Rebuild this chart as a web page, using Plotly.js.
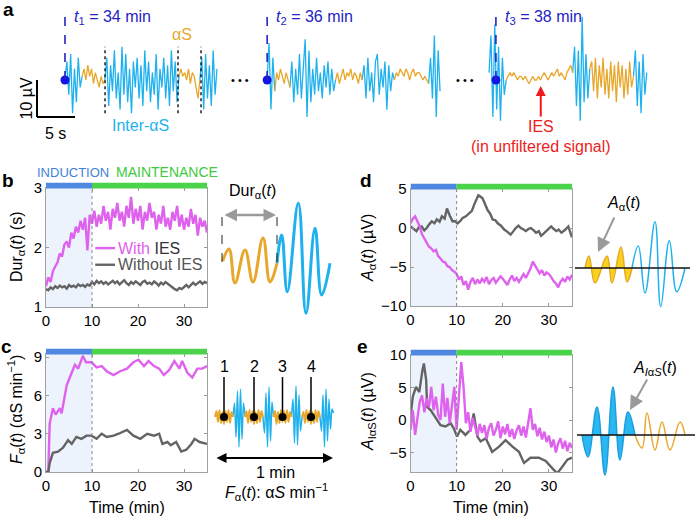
<!DOCTYPE html>
<html><head><meta charset="utf-8">
<script src="https://cdn.plot.ly/plotly-3.0.1.min.js"></script>
<style>body{margin:0;background:#fff}#chart{width:695px;height:517px}</style>
</head><body><div id="chart"></div>
<script>
// ---------------- DATA ----------------
// Panel a: EEG excerpts (µV), sampled every 0.25 s
const dtA = 0.25;
const segStart = [0, 26.6, 55.8];          // display time (s) where each excerpt starts
const markerT = [0, 26.6, 56.7];           // t1, t2, t3 markers (display s)
const markerLabels = ['<i>t</i><sub>1</sub> = 34 min', '<i>t</i><sub>2</sub> = 36 min', '<i>t</i><sub>3</sub> = 38 min'];
const seg1 = [0,5,-4,7,-9,3,-6,6,-2,1,3,0,4,1,3,-1,2,0,-2,1,-1,0,6,-7,4,-3,8,-5,2,-8,9,-4,7,-6,3,-9,5,-2,6,-5,4,-7,8,-3,5,-6,2,-4,7,-8,3,-2,6,-5,4,-7,8,-3,5,-6,1,3,1,2,0,3,-1,2,1,-2,-5,0,6,-8,7,-5,4,-7,8,-4,3];
const seg2 = [0,10,-8,6,-3,2,0,3,1,-1,2,0,-2,5,-6,3,-4,7,-5,4,11,-10,8,-6,3,-4,6,-3,2,-5,4,-2,5,-4,3,-3,0,2,-1,1,3,0,2,1,3,0,2,1,-1,2,0,4,-5,6,-3,2,-6,5,7,-4,3,-2,5,-8,4,-3,2,0,2,1,3,2,1,3,2,0,2,3,1,2,2,1,0,1,0,-1,6,-5,12,-10,8,-3];
const seg3 = [2,12,-10,15,-8,9,-11,6,-4,0,1,2,1,2,1,0,1,1,0,1,0,-1,0,1,0,0,1,0,1,2,1,0,1,2,1,2,3,1,2,1,0,2,3,4,2,9,-7,8,-11,17,-6,7,-5,3,5,-3,6,-5,4,-2,6,-4,3,-5,5,-3,4,-6,5,-2,4,-5,3,-4,5,-2,1,8,-7,5,-9,7,-4,2];
const orangeRanges = [[[9,21],[60,71]], [[4,12],[36,50],[67,85]], [[9,44],[53,76]]];
const dottedT = [5.27, 14.87, 17.9];

// Panel b: Dur_alpha(t) (s), every 0.5 min
const bWith = [1.35,1.5,1.42,1.6,1.68,1.75,1.9,1.85,2.05,2.1,2.0,2.25,2.15,2.35,2.25,2.45,2.3,2.5,1.95,2.55,
 2.4,2.62,2.35,2.55,2.4,2.7,2.45,2.6,2.3,2.65,2.5,2.75,2.45,2.6,2.35,2.7,2.5,2.85,2.4,2.65,
 2.45,2.7,2.3,2.6,2.45,2.75,2.5,2.6,2.3,2.55,2.4,2.7,2.35,2.5,2.3,2.6,2.45,2.7,2.35,2.55,
 2.3,2.5,2.35,2.65,2.4,2.55,2.2,2.5,2.35,2.45,2.25];
const bWithout = [1.3,1.28,1.33,1.3,1.35,1.32,1.36,1.33,1.35,1.31,1.37,1.34,1.36,1.33,1.38,1.35,1.37,1.34,1.38,1.36,
 1.42,1.38,1.44,1.4,1.43,1.39,1.42,1.38,1.41,1.44,1.4,1.43,1.38,1.42,1.45,1.4,1.37,1.42,1.39,1.43,
 1.4,1.37,1.42,1.44,1.39,1.41,1.38,1.43,1.4,1.36,1.41,1.38,1.42,1.39,1.35,1.33,1.3,1.28,1.32,1.3,
 1.34,1.37,1.33,1.38,1.41,1.37,1.4,1.43,1.39,1.42,1.4];

// Panel c: F_alpha(t) (alpha-S per min)
const cWithT = [0,0.5,0.8,1.5,2.1,3,3.4,4.1,4.5,5.6,6.3,7,8,8.7,9.9,11,12.1,13.2,14.7,16.1,17.6,19,20.1,21.3,22.3,23.5,24.6,25.6,26.8,27.9,29,29.6,30.7,31.8,32.9,34,35];
const cWith  = [0,0,3.8,5.0,4.5,5.0,4.6,6.2,6.8,7.8,8.4,8.1,9.1,8.6,8.6,8.2,8.3,7.9,7.6,7.9,8.1,8.6,8.8,8.3,8.7,8.3,8.1,7.6,8.0,8.7,8.1,8.7,7.8,7.4,8.1,8.1,8.3];
const cWithoutT = [0,0.5,0.8,1.5,2.6,3.7,4.8,5.6,6.6,7.7,8.8,9.9,11,12.1,13.2,14.7,15.8,17.6,19,20.5,22,23.5,24.6,25.3,26.4,27.1,28.3,29.4,30.5,31.6,32.3,33.4,35];
const cWithout  = [0,0,0.7,1.5,1.6,1.9,2.5,2.2,2.75,2.6,2.85,2.85,2.6,3.0,2.75,2.85,3.0,3.3,2.85,2.6,3.0,2.85,3.0,2.2,2.35,2.1,2.35,1.6,1.75,2.2,2.6,2.35,2.2];

// Panel d: A_alpha(t) (µV)
const dWith = [0.6,1.2,1.5,0.9,0.2,-0.8,-1.3,-1.8,-2.4,-2.6,-3.0,-2.8,-3.6,-3.9,-4.3,-4.4,-4.9,-5.0,-5.4,-5.6,
 -5.9,-6.6,-6.2,-7.3,-6.8,-7.9,-6.9,-6.4,-7.2,-6.6,-7.1,-6.5,-6.9,-6.3,-7.2,-6.7,-6.4,-7.0,-6.6,-6.2,
 -6.5,-6.9,-7.3,-6.6,-6.1,-6.8,-6.4,-6.9,-6.3,-5.9,-6.4,-5.8,-5.2,-4.3,-4.8,-5.3,-5.8,-5.4,-6.1,-5.7,
 -5.9,-6.3,-6.8,-7.1,-7.6,-6.9,-6.5,-6.9,-6.2,-6.6,-6.0];
const dWithoutT = [0,0.6,1.3,1.8,2.4,3,3.5,4.1,4.6,5.2,5.7,6.3,6.8,7.4,7.9,8.5,9.1,9.6,10.2,10.8,11.3,12,12.7,13.3,13.8,14.3,14.7,15.2,15.6,16.2,16.7,17.3,17.8,18.4,18.9,19.6,20.3,21,21.7,22.3,22.8,23.4,23.9,24.5,25,25.6,26.1,26.7,27.2,27.8,28.3,28.9,29.4,30,30.5,31,31.6,32.1,32.7,33.4,34.2,34.6,35];
const dWithout  = [0.2,-0.1,-0.4,0.1,0.2,-0.3,0,0.5,0.85,0.6,1.1,0.8,1.5,1.2,2.5,1.6,0.85,0.9,0.6,0.9,1.3,1.5,1.9,2.2,3,3.6,4.2,4.0,3.8,3.0,2.3,1.8,1.1,1.0,0.6,0.3,-0.2,-0.5,-0.85,-0.4,0,0.3,0,-0.2,-0.4,-0.1,0,-0.3,-0.6,-0.4,-1.0,-0.7,-0.4,0,0.2,-0.1,-0.4,-0.2,-0.6,-0.3,0.2,-0.5,-1.2];

// Panel e: A_IalphaS(t) (µV)
const eWith = [-1.5,1.5,-2.3,0.5,2.8,3.8,1.2,3.3,2.0,5.1,
 1.5,3.6,0.8,0.0,5.6,0.5,3.4,-0.5,2.5,5.1,
 -1.5,3.2,8.9,5.1,-0.5,1.2,-1.8,0.3,-1.0,-2.4,
 -0.6,-2.0,-0.8,-2.9,-1.2,-0.5,-2.4,-1.5,-0.2,-2.8,
 -1.0,-2.2,-0.6,-2.6,-1.4,-2.9,-1.6,-0.8,-2.4,-1.0,
 -2.7,-0.5,1.8,-1.5,-0.6,-2.5,-1.2,-3.0,-1.8,-3.4,
 -2.4,-4.2,-3.0,-5.0,-3.6,-2.8,-4.4,-3.2,-4.8,-3.5,-4.3];
const eWithoutT = [0,0.5,1.2,1.9,2.6,2.9,3.4,3.6,4.4,5.4,6.5,7.6,8.7,9.4,10.1,10.8,11.9,13,13.7,14.5,15.2,16.3,17.7,19.2,20.6,22.1,23.5,24.6,26,27.8,29.3,30.7,31.8,32.9,34,35];
const eWithout  = [0.5,3.6,5.1,4.3,7.7,8.7,6.1,2.0,1.5,0.3,-0.8,-1.0,-0.5,-1.3,-2.55,-1.5,-2.3,-1.5,1.0,-2.55,-3.3,-2.8,-4.9,-4.1,-3.1,-4.1,-4.9,-6.6,-5.8,-5.8,-6.3,-7.4,-8.2,-7.2,-6.1,-5.8];

// Schematics (arbitrary units: schematic time, amplitude)
const durOrangeX = [7.7,14,20,30,38,48,55,62];
const durOrangeY = [1,13,-21,12,-20,24,-20,-1];
const durBlueX = [62,66.7,72.3,83.3,91,100,106.7,115];
const durBlueY = [-1,27,-29.7,58.7,-51.3,33.7,-33,-1.3];
const durMarks = [7, 62];

const fWave = [0,6,-5,7,-6,5,-7,6,-5,7,-6,5,0,14,-20,26,-30,28,-22,14,0,6,-6,7,-5,6,-7,5,-6,7,-5,6,0,-16,24,-30,30,-24,15,0,6,-7,5,-6,7,-5,6,-6,7,-5,5,0,18,-26,31,-28,22,-14,0,5,-6,7,-5,6,-7,5,-6,7,-5,6,0,-14,22,-30,28,-24,18,-12,8,4];
const fWaveX0 = 5, fWaveDx = 1.5;
const fOrange = [[0,12],[20,32],[39,51],[58,70]];
const fLabels = ['1','2','3','4'];

const aOrangeX = [13,17,23,35,40,49,55,60];
const aOrangeY = [0,12,-15,12,-15,21,-14,0];
const aBlueX = [60,66.3,73,83,88.7,97.3,104.7,113];
const aBlueY = [0,22,-25,46.3,-38.7,27.3,-23.7,0];

const iBlueX = [10,16,25,33,41,48,56,63];
const iBlueY = [0,-22,28,-40,48,-25,23,0];
const iOrangeX = [63,70,75,83,90,98,108,113];
const iOrangeY = [0,-13,22,-15,13,-15,13,0];

// ---------------- STYLE ----------------
const FONT = 'Arial, "Liberation Sans", Helvetica, sans-serif';
const MAG = '#df62ee', GRY = '#646464', BLUEW = '#1fb1ee', ORW = '#e8a72a';
const INDC = '#4f88e0', MAINC = '#4bd44b', SHADE = '#edf3fc', TBLUE = '#2424c4';
const W = 695, H = 517;
const fx = p => p / W, fy = p => 1 - p / H;

const traces = [];
const shapes = [];
const ann = [];

// ---------- Panel a ----------
[seg1, seg2, seg3].forEach((vals, s) => {
  const xs = vals.map((v, i) => segStart[s] + i * dtA);
  const blueY = vals.slice();
  orangeRanges[s].forEach(([a, b]) => { for (let i = a + 1; i < b; i++) blueY[i] = null; });
  traces.push({x: xs, y: blueY, xaxis: 'x5', yaxis: 'y5', mode: 'lines', connectgaps: false,
    line: {color: BLUEW, width: 1.3}, hoverinfo: 'skip'});
  orangeRanges[s].forEach(([a, b]) => {
    traces.push({x: xs.slice(a, b + 1), y: vals.slice(a, b + 1), xaxis: 'x5', yaxis: 'y5', mode: 'lines',
      line: {color: ORW, width: 1.3}, hoverinfo: 'skip'});
  });
});
markerT.forEach((t, i) => {
  shapes.push({type: 'line', xref: 'x5', yref: 'y5', x0: t, x1: t, y0: 0, y1: 17.6,
    line: {color: TBLUE, width: 1.6, dash: 'dash'}});
  ann.push({xref: 'x5', yref: 'y5', x: t + 0.9, y: 17.0, text: markerLabels[i], showarrow: false,
    xanchor: 'left', yanchor: 'middle', font: {family: FONT, size: 16, color: TBLUE}});
});
traces.push({x: markerT, y: markerT.map(() => 0), xaxis: 'x5', yaxis: 'y5', mode: 'markers',
  marker: {color: '#1414e6', size: 9}, hoverinfo: 'skip'});
dottedT.forEach(t => shapes.push({type: 'line', xref: 'x5', yref: 'y5', x0: t, x1: t, y0: -9, y1: 9,
  line: {color: '#111', width: 1.4, dash: 'dot'}}));
// scale bar 5 s x 10 µV
shapes.push({type: 'line', xref: 'x5', yref: 'y5', x0: -3.68, x1: -3.68, y0: 0, y1: -10, line: {color: '#000', width: 2}});
shapes.push({type: 'line', xref: 'x5', yref: 'y5', x0: -3.68, x1: 1.32, y0: -10, y1: -10, line: {color: '#000', width: 2}});
ann.push({xref: 'x5', yref: 'y5', x: -5.0, y: -5, text: '10 µV', textangle: -90, showarrow: false,
  font: {family: FONT, size: 16, color: '#000'}});
ann.push({xref: 'x5', yref: 'y5', x: -1.2, y: -14.4, text: '5 s', showarrow: false,
  font: {family: FONT, size: 16, color: '#000'}});
ann.push({xref: 'x5', yref: 'y5', x: 15.4, y: 12.2, text: 'αS', showarrow: false,
  font: {family: FONT, size: 16, color: ORW}});
ann.push({xref: 'x5', yref: 'y5', x: 9.9, y: -12.2, text: 'Inter-αS', showarrow: false,
  font: {family: FONT, size: 16, color: BLUEW}});
ann.push({xref: 'x5', yref: 'y5', x: 23.0, y: 0, text: '• • •', showarrow: false,
  font: {family: FONT, size: 11, color: '#000'}});
ann.push({xref: 'x5', yref: 'y5', x: 52.6, y: 0, text: '• • •', showarrow: false,
  font: {family: FONT, size: 11, color: '#000'}});
ann.push({xref: 'x5', yref: 'y5', x: 62.6, y: -1.6, ax: 62.6, ay: -10.3, axref: 'x5', ayref: 'y5', text: '',
  showarrow: true, arrowcolor: '#ee1c1c', arrowwidth: 2, arrowhead: 2, arrowsize: 1});
ann.push({xref: 'x5', yref: 'y5', x: 62.6, y: -12.6, text: 'IES', showarrow: false,
  font: {family: FONT, size: 16, color: '#ee1c1c'}});
ann.push({xref: 'x5', yref: 'y5', x: 62.6, y: -17.9, text: '(in unfiltered signal)', showarrow: false,
  font: {family: FONT, size: 16, color: '#ee1c1c'}});

// ---------- Main panels ----------
const tHalf = bWith.map((v, i) => i * 0.5);
const mainLine = c => ({color: c, width: 2.4});
traces.push({x: tHalf, y: bWith, xaxis: 'x', yaxis: 'y', mode: 'lines', line: mainLine(MAG), hoverinfo: 'skip'});
traces.push({x: tHalf, y: bWithout, xaxis: 'x', yaxis: 'y', mode: 'lines', line: mainLine(GRY), hoverinfo: 'skip'});
traces.push({x: cWithT, y: cWith, xaxis: 'x2', yaxis: 'y2', mode: 'lines', line: mainLine(MAG), hoverinfo: 'skip'});
traces.push({x: cWithoutT, y: cWithout, xaxis: 'x2', yaxis: 'y2', mode: 'lines', line: mainLine(GRY), hoverinfo: 'skip'});
traces.push({x: dWithoutT, y: dWithout, xaxis: 'x3', yaxis: 'y3', mode: 'lines', line: mainLine(GRY), hoverinfo: 'skip'});
traces.push({x: tHalf, y: dWith, xaxis: 'x3', yaxis: 'y3', mode: 'lines', line: mainLine(MAG), hoverinfo: 'skip'});
traces.push({x: eWithoutT, y: eWithout, xaxis: 'x4', yaxis: 'y4', mode: 'lines', line: mainLine(GRY), hoverinfo: 'skip'});
traces.push({x: tHalf, y: eWith, xaxis: 'x4', yaxis: 'y4', mode: 'lines', line: mainLine(MAG), hoverinfo: 'skip'});

const phaseEdges = [0, 10, 35];
[['x', 'y'], ['x2', 'y2'], ['x3', 'y3'], ['x4', 'y4']].forEach(([xa, ya]) => {
  shapes.push({type: 'rect', xref: xa, yref: ya + ' domain', x0: phaseEdges[0], x1: phaseEdges[1], y0: 0, y1: 1,
    fillcolor: SHADE, line: {width: 0}, layer: 'below'});
  shapes.push({type: 'line', xref: xa, yref: ya + ' domain', x0: phaseEdges[1], x1: phaseEdges[1], y0: 0, y1: 1,
    line: {color: '#8a8a8a', width: 1, dash: 'dot'}});
  shapes.push({type: 'rect', xref: xa, yref: ya + ' domain', x0: phaseEdges[0], x1: phaseEdges[1], y0: 0.995, y1: 1.045,
    fillcolor: INDC, line: {width: 0}});
  shapes.push({type: 'rect', xref: xa, yref: ya + ' domain', x0: phaseEdges[1], x1: phaseEdges[2], y0: 0.995, y1: 1.045,
    fillcolor: MAINC, line: {width: 0}});
});
ann.push({xref: 'paper', yref: 'paper', x: fx(35), y: fy(172), xanchor: 'left', text: 'INDUCTION', showarrow: false,
  font: {family: FONT, size: 13, color: '#3f82d8'}});
ann.push({xref: 'paper', yref: 'paper', x: fx(114), y: fy(172), xanchor: 'left', text: 'MAINTENANCE', showarrow: false,
  font: {family: FONT, size: 14, color: '#3ec93e'}});

// legend (panel b)
shapes.push({type: 'line', xref: 'x', yref: 'y', x0: 10.7, x1: 15.0, y0: 1.99, y1: 1.99, line: {color: MAG, width: 2.4}});
shapes.push({type: 'line', xref: 'x', yref: 'y', x0: 10.7, x1: 15.0, y0: 1.71, y1: 1.71, line: {color: GRY, width: 2.4}});
ann.push({xref: 'x', yref: 'y', x: 15.3, y: 1.99, xanchor: 'left', showarrow: false,
  text: '<span style="color:' + MAG + '">With</span> IES', font: {family: FONT, size: 16, color: '#333'}});
ann.push({xref: 'x', yref: 'y', x: 15.3, y: 1.71, xanchor: 'left', showarrow: false,
  text: 'Without IES', font: {family: FONT, size: 16, color: '#555'}});

// axis titles and panel letters
const tf = {family: FONT, size: 16, color: '#000'};
ann.push({xref: 'paper', yref: 'paper', x: fx(17), y: fy(247), text: 'Dur<sub>α</sub>(<i>t</i>) (s)', textangle: -90, showarrow: false, font: tf});
ann.push({xref: 'paper', yref: 'paper', x: fx(16), y: fy(410), text: '<i>F</i><sub>α</sub>(<i>t</i>) (αS min<sup>−1</sup>)', textangle: -90, showarrow: false, font: tf});
ann.push({xref: 'paper', yref: 'paper', x: fx(368), y: fy(248), text: '<i>A</i><sub>α</sub>(<i>t</i>) (µV)', textangle: -90, showarrow: false, font: tf});
ann.push({xref: 'paper', yref: 'paper', x: fx(368), y: fy(412), text: '<i>A</i><sub>IαS</sub>(<i>t</i>) (µV)', textangle: -90, showarrow: false, font: tf});
ann.push({xref: 'paper', yref: 'paper', x: fx(126.5), y: fy(508), text: 'Time (min)', showarrow: false, font: tf});
ann.push({xref: 'paper', yref: 'paper', x: fx(491), y: fy(508), text: 'Time (min)', showarrow: false, font: tf});
[['a', 8, 9], ['b', 8, 181], ['c', 6, 346], ['d', 366, 181], ['e', 362, 346]].forEach(([l, x, y]) =>
  ann.push({xref: 'paper', yref: 'paper', x: fx(x), y: fy(y), text: '<b>' + l + '</b>', showarrow: false,
    font: {family: FONT, size: 19, color: '#000'}}));

// ---------- Schematic b (duration) ----------
traces.push({x: durOrangeX, y: durOrangeY, xaxis: 'x6', yaxis: 'y6', mode: 'lines',
  line: {color: ORW, width: 3, shape: 'spline', smoothing: 1.2}, hoverinfo: 'skip'});
traces.push({x: durBlueX, y: durBlueY, xaxis: 'x6', yaxis: 'y6', mode: 'lines',
  line: {color: BLUEW, width: 3, shape: 'spline', smoothing: 1.2}, hoverinfo: 'skip'});
durMarks.forEach(x => shapes.push({type: 'line', xref: 'x6', yref: 'y6', x0: x, x1: x, y0: 0, y1: 53,
  line: {color: '#222', width: 1, dash: 'dash'}}));
ann.push({xref: 'x6', yref: 'y6', x: durMarks[1] - 1, y: 47, ax: durMarks[0] + 1, ay: 47, axref: 'x6', ayref: 'y6',
  text: '', showarrow: true, arrowside: 'end+start', arrowcolor: '#9a9a9a', arrowwidth: 2.5, arrowhead: 2, arrowsize: 1});
ann.push({xref: 'x6', yref: 'y6', x: 37, y: 71, text: 'Dur<sub>α</sub>(<i>t</i>)', showarrow: false, font: tf});

// ---------- Schematic c (frequency) ----------
const fX = fWave.map((v, i) => fWaveX0 + i * fWaveDx);
const fBlueY = fWave.slice();
fOrange.forEach(([a, b]) => { for (let i = a + 1; i < b; i++) fBlueY[i] = null; });
traces.push({x: fX, y: fBlueY, xaxis: 'x7', yaxis: 'y7', mode: 'lines', connectgaps: false,
  line: {color: BLUEW, width: 1.5, shape: 'spline', smoothing: 0.8}, hoverinfo: 'skip'});
fOrange.forEach(([a, b]) => traces.push({x: fX.slice(a, b + 1), y: fWave.slice(a, b + 1), xaxis: 'x7', yaxis: 'y7',
  mode: 'lines', line: {color: ORW, width: 2, shape: 'spline', smoothing: 0.8}, hoverinfo: 'skip'}));
const fDotX = fOrange.map(([a, b]) => fWaveX0 + fWaveDx * (a + b) / 2);
fDotX.forEach((x, i) => {
  shapes.push({type: 'line', xref: 'x7', yref: 'y7', x0: x, x1: x, y0: 0, y1: 40, line: {color: '#000', width: 1.5}});
  ann.push({xref: 'x7', yref: 'y7', x: x, y: 51, text: fLabels[i], showarrow: false, font: tf});
});
traces.push({x: fDotX, y: fDotX.map(() => 0), xaxis: 'x7', yaxis: 'y7', mode: 'markers',
  marker: {color: '#000', size: 8}, hoverinfo: 'skip'});
ann.push({xref: 'x7', yref: 'y7', x: 123, y: -41, ax: 5, ay: -41, axref: 'x7', ayref: 'y7', text: '', showarrow: true,
  arrowside: 'end+start', arrowcolor: '#000', arrowwidth: 2, arrowhead: 2, arrowsize: 1});
ann.push({xref: 'x7', yref: 'y7', x: 65, y: -55, text: '1 min', showarrow: false, font: tf});
ann.push({xref: 'x7', yref: 'y7', x: 66, y: -75, text: '<i>F</i><sub>α</sub>(<i>t</i>): α<i>S</i> min<sup>−1</sup>', showarrow: false, font: tf});

// ---------- Schematic d (alpha amplitude) ----------
traces.push({x: aOrangeX, y: aOrangeY, xaxis: 'x8', yaxis: 'y8', mode: 'lines', fill: 'tozeroy', fillcolor: '#f8d31e',
  line: {color: ORW, width: 1.5, shape: 'spline', smoothing: 1.2}, hoverinfo: 'skip'});
traces.push({x: aBlueX, y: aBlueY, xaxis: 'x8', yaxis: 'y8', mode: 'lines',
  line: {color: BLUEW, width: 1.5, shape: 'spline', smoothing: 1.2}, hoverinfo: 'skip'});
shapes.push({type: 'line', xref: 'x8', yref: 'y8', x0: 3, x1: 118, y0: 0, y1: 0, line: {color: '#111', width: 1.5}});
ann.push({xref: 'x8', yref: 'y8', x: 26, y: 16, ax: 43, ay: 52, axref: 'x8', ayref: 'y8', text: '', showarrow: true,
  arrowcolor: '#9a9a9a', arrowwidth: 2, arrowhead: 2, arrowsize: 1.4});
ann.push({xref: 'x8', yref: 'y8', x: 51, y: 65, text: '<i>A</i><sub>α</sub>(<i>t</i>)', showarrow: false, font: tf});

// ---------- Schematic e (inter-alpha amplitude) ----------
traces.push({x: iBlueX, y: iBlueY, xaxis: 'x9', yaxis: 'y9', mode: 'lines', fill: 'tozeroy', fillcolor: '#2bb8f0',
  line: {color: '#1a9fe0', width: 1.5, shape: 'spline', smoothing: 1.2}, hoverinfo: 'skip'});
traces.push({x: iOrangeX, y: iOrangeY, xaxis: 'x9', yaxis: 'y9', mode: 'lines',
  line: {color: ORW, width: 1.5, shape: 'spline', smoothing: 1.2}, hoverinfo: 'skip'});
shapes.push({type: 'line', xref: 'x9', yref: 'y9', x0: 5, x1: 123, y0: 0, y1: 0, line: {color: '#111', width: 1.5}});
ann.push({xref: 'x9', yref: 'y9', x: 58, y: 25, ax: 76, ay: 57, axref: 'x9', ayref: 'y9', text: '', showarrow: true,
  arrowcolor: '#9a9a9a', arrowwidth: 2, arrowhead: 2, arrowsize: 1.4});
ann.push({xref: 'x9', yref: 'y9', x: 83, y: 67, text: '<i>A</i><sub><i>I</i>α<i>S</i></sub>(<i>t</i>)', showarrow: false, font: tf});

// explicit anchors everywhere (avoid 'auto' anchoring near paper edges)
ann.forEach(a => { if (!a.xanchor) a.xanchor = 'center'; if (!a.yanchor) a.yanchor = 'middle'; });

// ---------------- LAYOUT ----------------
const tickFont = {family: FONT, size: 15, color: '#000'};
function xMain(dom, anchor) {
  return {domain: dom, anchor, range: [0, 35], tickvals: [0, 10, 20, 30], ticks: 'inside', ticklen: 3, tickwidth: 1,
    tickcolor: '#999', showline: true, linecolor: '#a0a0a0', linewidth: 1, mirror: 'ticks', showgrid: false,
    zeroline: false, tickfont: tickFont, fixedrange: true};
}
function yMain(dom, anchor, range, tv) {
  return {domain: dom, anchor, range, tickvals: tv, ticks: 'inside', ticklen: 3, tickwidth: 1,
    tickcolor: '#999', showline: true, linecolor: '#a0a0a0', linewidth: 1, mirror: 'ticks', showgrid: false,
    zeroline: false, tickfont: tickFont, fixedrange: true};
}
const hidden = (dom, anchor, range) => ({domain: dom, anchor, range, visible: false, fixedrange: true});
const xL = [fx(46), fx(207)], xR = [fx(410.5), fx(572)];

const layout = {
  width: W, height: H, margin: {l: 0, r: 0, t: 0, b: 0}, showlegend: false,
  paper_bgcolor: '#fff', plot_bgcolor: 'rgba(0,0,0,0)', font: {family: FONT},
  xaxis: xMain(xL, 'y'), yaxis: yMain([fy(307), fy(188)], 'x', [1, 3], [1, 2, 3]),
  xaxis2: xMain(xL, 'y2'), yaxis2: yMain([fy(472), fy(354)], 'x2', [0, 9.25], [0, 3, 6, 9]),
  xaxis3: xMain(xR, 'y3'), yaxis3: yMain([fy(306), fy(189)], 'x3', [-10, 5], [-10, -5, 0, 5]),
  xaxis4: xMain(xR, 'y4'), yaxis4: yMain([fy(472), fy(355)], 'x4', [-8, 10], [-5, 0, 5, 10]),
  xaxis5: hidden([0, 1], 'y5', [-8.55, 82.895]), yaxis5: hidden([fy(155), fy(5)], 'x5', [-20.27, 20.27]),
  xaxis6: hidden([fx(215), fx(335)], 'y6', [0, 120]), yaxis6: hidden([fy(320), fy(180)], 'x6', [-58, 82]),
  xaxis7: hidden([fx(210), fx(340)], 'y7', [0, 130]), yaxis7: hidden([fy(500), fy(355)], 'x7', [-83, 62]),
  xaxis8: hidden([fx(572), fx(695)], 'y8', [0, 123]), yaxis8: hidden([fy(320), fy(195)], 'x8', [-52, 73]),
  xaxis9: hidden([fx(572), fx(695)], 'y9', [0, 123]), yaxis9: hidden([fy(490), fy(360)], 'x9', [-55, 75]),
  shapes, annotations: ann
};

Plotly.newPlot('chart', traces, layout, {staticPlot: true, displayModeBar: false});
</script>
</body></html>
